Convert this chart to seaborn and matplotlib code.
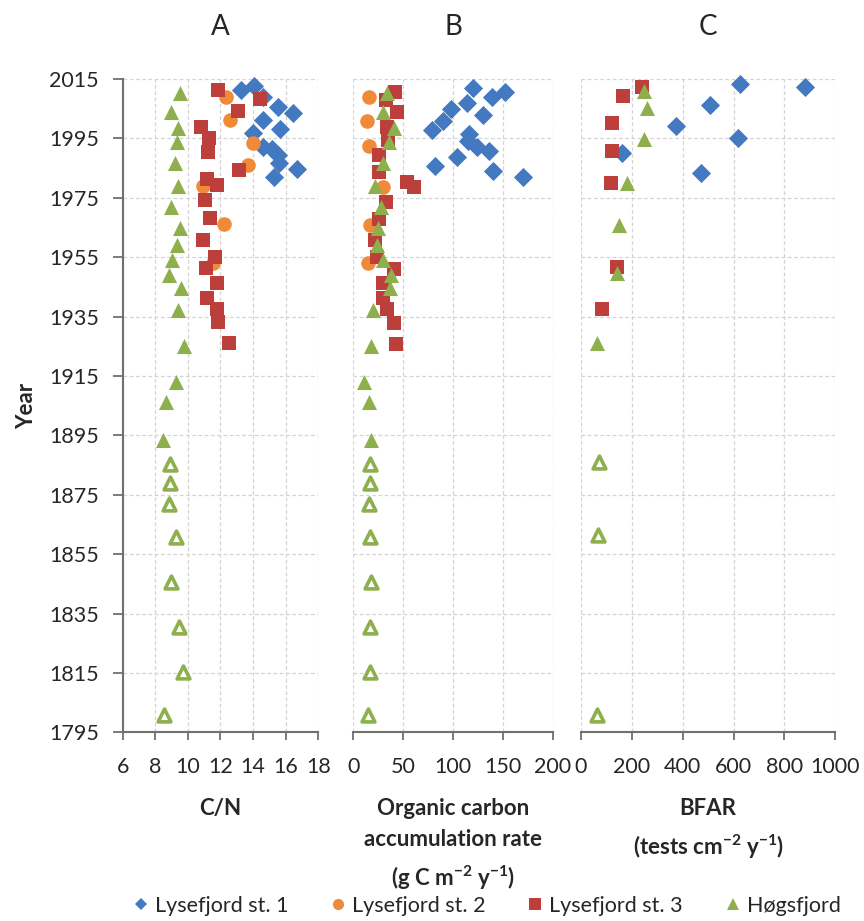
import matplotlib
matplotlib.use("Agg")
import matplotlib.pyplot as plt
from matplotlib.lines import Line2D
import seaborn as sns
import pandas as pd

# ---------------- data ----------------
# Panel A: C/N ratio
cn_st1_year = [2012.8, 2011.3, 2009.0, 2005.5, 2003.7, 2001.2, 1998.0, 1996.7,
               1992.0, 1991.3, 1989.4, 1986.6, 1984.6, 1982.1]
cn_st1 = [14.06, 13.24, 14.63, 15.55, 16.43, 14.63, 15.65, 14.0,
          14.63, 15.14, 15.55, 15.6, 16.7, 15.28]

cn_st2_year = [2008.8, 2001.2, 1993.3, 1986.0, 1979.0, 1966.1, 1952.9]
cn_st2 = [12.34, 12.58, 14.0, 13.7, 10.9, 12.21, 11.56]

st3_year = [2011.3, 2008.2, 2004.3, 1999.0, 1995.0, 1990.5, 1984.3, 1981.2,
            1979.3, 1974.2, 1968.1, 1960.8, 1955.1, 1951.2, 1946.4, 1941.4,
            1937.7, 1933.2, 1926.2]
cn_st3 = [11.87, 14.42, 13.09, 10.78, 11.31, 11.25, 13.15, 11.19,
          11.77, 11.05, 11.36, 10.9, 11.66, 11.11, 11.77, 11.19,
          11.8, 11.87, 12.54]

hog_year = [2010.2, 2004.0, 1998.4, 1993.9, 1986.8, 1979.0, 1972.0, 1964.7,
            1959.1, 1954.0, 1949.0, 1944.5, 1937.2, 1925.0, 1913.0, 1906.3,
            1893.6, 1885.5, 1878.8, 1871.8, 1860.8, 1845.6, 1830.5, 1815.3,
            1800.7]
# samples older than the dated part of the Høgsfjord core (open symbols)
hog_extrapolated = [False] * 17 + [True] * 8
cn_hog = [9.52, 8.94, 9.41, 9.31, 9.21, 9.41, 8.94, 9.52,
          9.35, 9.0, 8.86, 9.56, 9.41, 9.76, 9.27, 8.66,
          8.49, 8.9, 8.9, 8.86, 9.25, 8.96, 9.47, 9.72, 8.53]

# Panel B: organic carbon accumulation rate (g C m-2 y-1)
ocar_st1_year = [2011.9, 2010.7, 2008.8, 2007.0, 2004.8, 2002.9, 2001.0, 1997.8,
                 1996.5, 1994.2, 1992.0, 1990.8, 1988.8, 1985.7, 1984.1, 1982.1]
ocar_st1 = [119.8, 152, 139, 114, 97.7, 130, 90, 78.6,
            116, 115, 124, 136, 104, 82, 140, 170.5]

ocar_st2_year = [2008.8, 2001.0, 1992.6, 1978.7, 1965.8, 1952.9]
ocar_st2 = [16, 13.4, 16.0, 29.5, 16.7, 15]

ocar_st3_year = [2010.7, 2007.9, 2004.0, 1999.0, 1994.5, 1989.4, 1983.8, 1980.4,
                 1978.5, 1973.7, 1967.7, 1960.8, 1955.1, 1950.9, 1946.4, 1941.4,
                 1937.4, 1932.7, 1925.7]
ocar_st3 = [41.8, 32.8, 44.1, 33.5, 35.1, 26.1, 26.1, 54.2,
            60.9, 32.8, 26.1, 21.8, 23.5, 40.8, 30.1, 30.1,
            33.5, 40.8, 42.8]

ocar_hog = [34.1, 30.1, 40.8, 36.1, 29.5, 21.8, 27.5, 25,
            24, 30.1, 37.5, 36.8, 20, 17.4, 10.7, 16,
            17.4, 16.7, 16.7, 16, 16.7, 17.4, 16.7, 16.7, 15]

# Panel C: benthic foraminiferal accumulation rate (tests cm-2 y-1)
bfar_st1_year = [2013.2, 2012.4, 2006.2, 1999.3, 1995.0, 1990.0, 1983.2]
bfar_st1 = [625, 880, 507, 373, 616, 160, 470]

bfar_st3_year = [2012.2, 2009.3, 2000.1, 1990.8, 1980.1, 1951.8, 1937.7]
bfar_st3 = [238, 164, 123, 123, 117, 143, 84]

bfar_hog_year = [2011.0, 2005.1, 1994.7, 1979.9, 1965.8, 1949.8, 1926.0,
                 1886.0, 1861.4, 1800.7]
bfar_hog_extrapolated = [False] * 7 + [True] * 3
bfar_hog = [249, 258, 249, 180, 149, 140, 64, 72, 68, 64]

station_names = ["Lysefjord st. 1", "Lysefjord st. 2", "Lysefjord st. 3", "Høgsfjord"]
panel_titles = ["A", "B", "C"]
year_ticks = list(range(1795, 2016, 20))

# ---------------- style ----------------
sns.set_style("white")
plt.rcParams["font.family"] = ["Lato", "DejaVu Sans"]
plt.rcParams["mathtext.fontset"] = "custom"
plt.rcParams["mathtext.rm"] = "Lato"
plt.rcParams["mathtext.bf"] = "Lato:bold"

colors = {"Lysefjord st. 1": "#4379C0", "Lysefjord st. 2": "#EE8A38",
          "Lysefjord st. 3": "#BC3F3C", "Høgsfjord": "#8DB04C"}
markers = {"Lysefjord st. 1": "D", "Lysefjord st. 2": "o",
           "Lysefjord st. 3": "s", "Høgsfjord": "^"}
sizes = {"Lysefjord st. 1": 95, "Lysefjord st. 2": 110,
         "Lysefjord st. 3": 112, "Høgsfjord": 118}

spine_col = "#707070"
grid_col = "#d4d4d4"
tick_fs = 15.5
label_fs = 16

W, H = 864, 921
fig = plt.figure(figsize=(W / 100, H / 100), dpi=100)

bottom = 1 - 732.3 / H
height = (732.3 - 79) / H
boxes = [(122.7, 195.6), (353.3, 199.4), (581.0, 254.3)]
axes = [fig.add_axes([l / W, bottom, w / W, height]) for l, w in boxes]


def draw(ax, x, y, station, hollow=None):
    df = pd.DataFrame({"value": x, "year": y})
    df["hollow"] = hollow if hollow is not None else [False] * len(df)
    filled = df[~df["hollow"]]
    open_ = df[df["hollow"]]
    sns.scatterplot(data=filled, x="value", y="year", ax=ax,
                    marker=markers[station], color=colors[station],
                    s=sizes[station], linewidth=0, legend=False, zorder=3,
                    clip_on=False)
    if len(open_):
        sns.scatterplot(data=open_, x="value", y="year", ax=ax,
                        marker=markers[station], facecolor="white",
                        edgecolor=colors[station], s=sizes[station] * 0.72,
                        linewidth=2.6, legend=False, zorder=3, clip_on=False)


# Panel A
ax = axes[0]
draw(ax, cn_st1, cn_st1_year, station_names[0])
draw(ax, cn_st2, cn_st2_year, station_names[1])
draw(ax, cn_st3, st3_year, station_names[2])
draw(ax, cn_hog, hog_year, station_names[3], hog_extrapolated)
ax.set_xlim(6, 18)
ax.set_xticks(range(6, 19, 2))

# Panel B
ax = axes[1]
draw(ax, ocar_st1, ocar_st1_year, station_names[0])
draw(ax, ocar_st2, ocar_st2_year, station_names[1])
draw(ax, ocar_st3, ocar_st3_year, station_names[2])
draw(ax, ocar_hog, hog_year, station_names[3], hog_extrapolated)
ax.set_xlim(0, 200)
ax.set_xticks(range(0, 201, 50))

# Panel C
ax = axes[2]
draw(ax, bfar_st1, bfar_st1_year, station_names[0])
draw(ax, bfar_st3, bfar_st3_year, station_names[2])
draw(ax, bfar_hog, bfar_hog_year, station_names[3], bfar_hog_extrapolated)
ax.set_xlim(0, 1000)
ax.set_xticks(range(0, 1001, 200))

xlabels = ["C/N",
           "Organic carbon\naccumulation rate\n(g C m$^{\\mathbf{-2}}$ y$^{\\mathbf{-1}}$)",
           "BFAR\n(tests cm$^{\\mathbf{-2}}$ y$^{\\mathbf{-1}}$)"]

for i, ax in enumerate(axes):
    ax.set_ylim(1795, 2015)
    ax.set_yticks(year_ticks)
    ax.grid(True, color=grid_col, linestyle=(0, (3, 2)), linewidth=0.9)
    ax.set_axisbelow(True)
    for side in ["top", "right", "left"]:
        ax.spines[side].set_visible(False)
    ax.spines["bottom"].set_color(spine_col)
    ax.spines["bottom"].set_linewidth(1.5)
    ax.tick_params(axis="x", direction="out", length=6, width=1.3,
                   color=spine_col, labelsize=tick_fs, pad=12, bottom=True)
    ax.set_xlabel(xlabels[i], fontsize=label_fs, fontweight="bold",
                  labelpad=15, linespacing=1.6, va="top")
    ax.set_ylabel("")
    ax.set_title(panel_titles[i], fontsize=20, pad=32)
    if i == 0:
        ax.spines["left"].set_visible(True)
        ax.spines["left"].set_color(spine_col)
        ax.spines["left"].set_linewidth(1.5)
        ax.tick_params(axis="y", direction="out", length=7, width=1.3,
                       color=spine_col, labelsize=tick_fs, pad=10, left=True)
        ax.set_ylabel("Year", fontsize=label_fs, fontweight="bold", labelpad=9)
    else:
        ax.tick_params(axis="y", left=False, labelleft=False)

handles = [Line2D([], [], linestyle="none", marker=markers[n], color=colors[n],
                  markersize={"D": 6, "o": 8, "s": 8, "^": 8}[markers[n]],
                  markeredgewidth=0, label=n) for n in station_names]
fig.legend(handles=handles, loc="center", bbox_to_anchor=(0.562, 1 - 906 / H),
           ncol=4, frameon=False, fontsize=15.5, handletextpad=0.15,
           columnspacing=1.8, handlelength=1.0)

fig.savefig("out.png", dpi=100)
